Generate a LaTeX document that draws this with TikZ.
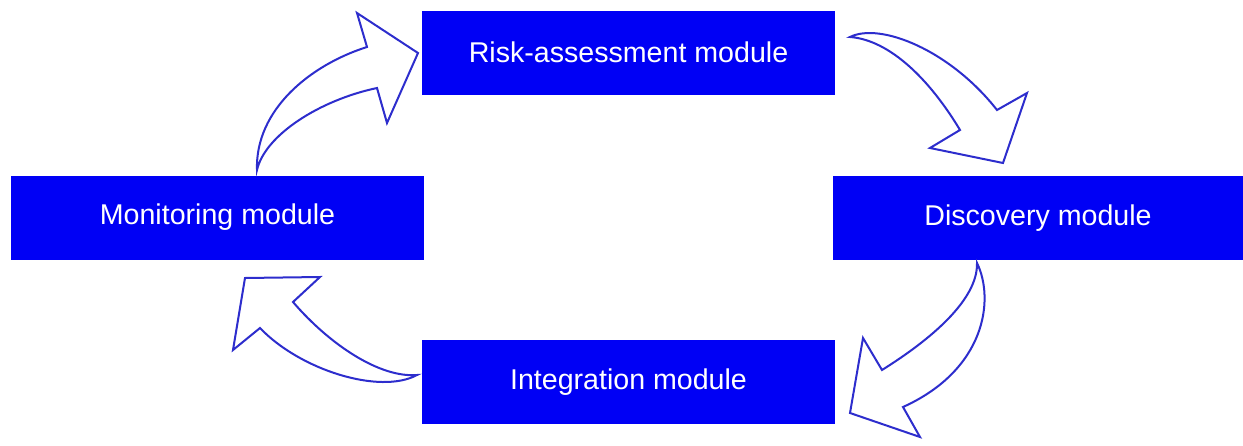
\documentclass[tikz,border=0pt]{standalone}
\usepackage{fontspec}
\setmainfont{Liberation Sans}
\begin{document}
\begin{tikzpicture}[x=1pt,y=-1pt,
  modbox/.style={fill={rgb,255:red,0;green,0;blue,245}, draw=none,
    text=white, minimum width=413pt, minimum height=84pt, inner sep=0pt,
    font=\fontsize{28.6}{34}\selectfont},
  blockarrow/.style={draw={rgb,255:red,45;green,45;blue,205}, line width=2pt,
    fill=white, line join=miter}]
\useasboundingbox (0,0) rectangle (1243,445);

% modules
\node[modbox] (risk) at (628.5,52.5) {Risk-assessment module};
\node[modbox] (mon)  at (217.5,217.5) {Monitoring module};
\node[modbox, minimum width=410pt] (disc) at (1038,218) {Discovery module};
\node[modbox] (integ) at (628.5,382) {Integration module};

% monitoring -> risk assessment
\draw[blockarrow] (257,170) .. controls (255,110) and (310,65) .. (367,47)
  -- (357,13) -- (418,53) -- (387,123) -- (377,88)
  .. controls (320,100) and (265,135) .. (257,170) -- cycle;

% risk assessment -> discovery
\draw[blockarrow] (850,37) .. controls (880,22) and (950,50) .. (997,110)
  -- (1027,93) -- (1003,163) -- (930,148) -- (960,130)
  .. controls (930,80) and (890,40) .. (850,37) -- cycle;

% discovery -> integration
\draw[blockarrow] (977,263) .. controls (995,300) and (985,370) .. (903,407)
  -- (920,437) -- (850,413) -- (863,338) -- (882,370)
  .. controls (930,340) and (978,300) .. (977,263) -- cycle;

% integration -> monitoring
\draw[blockarrow] (417,375) .. controls (380,395) and (300,370) .. (260,328)
  -- (233,350) -- (245,278) -- (320,277) -- (293,302)
  .. controls (330,345) and (380,378) .. (417,375) -- cycle;
\end{tikzpicture}
\end{document}
